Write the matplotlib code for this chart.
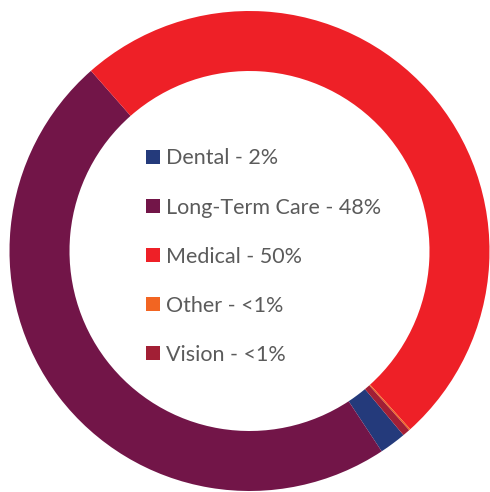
import matplotlib.pyplot as plt

labels = ['Dental', 'Long-Term Care', 'Medical', 'Other', 'Vision']
shares = [1.8, 47.8, 49.8, 0.1, 0.5]
shown = ['2%', '48%', '50%', '<1%', '<1%']
colors = ['#243a7b', '#721548', '#ee2027', '#f26522', '#a21f35']

fig = plt.figure(figsize=(4.9, 4.92), dpi=100)
ax = fig.add_axes([0, 0, 1, 1])

wedges, _ = ax.pie(shares, colors=colors, startangle=-50.1, counterclock=False,
                   radius=240, center=(249.5, 241),
                   wedgeprops=dict(width=60, linewidth=0), frame=True)
ax.set_xlim(0, 490)
ax.set_ylim(0, 492)
ax.set_aspect('equal')
ax.axis('off')

names = [f'{l} - {s}' for l, s in zip(labels, shown)]
fig.legend(wedges, names, loc='upper left', bbox_to_anchor=(146 / 490, 1 - 148.5 / 492),
           frameon=False, borderpad=0, borderaxespad=0,
           handlelength=0.65, handleheight=0.65, handletextpad=0.3,
           labelspacing=1.35,
           prop=dict(family='Lato', size=15.5), labelcolor='#5b5b5b')

fig.savefig('out.png', dpi=100)
